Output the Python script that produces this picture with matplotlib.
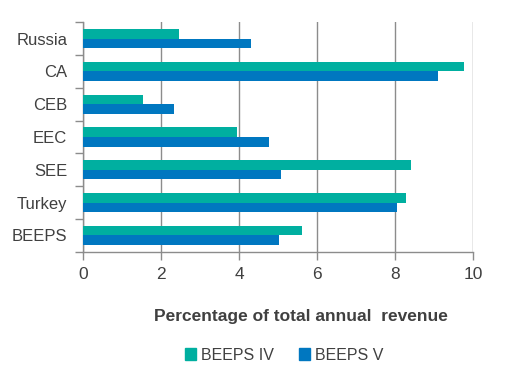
import matplotlib
matplotlib.use("Agg")
import matplotlib.pyplot as plt
import numpy as np
from matplotlib.patches import Patch

categories = ["Russia", "CA", "CEB", "EEC", "SEE", "Turkey", "BEEPS"]
beeps_iv = [2.45, 9.76, 1.53, 3.93, 8.40, 8.27, 5.61]
beeps_v = [4.29, 9.09, 2.33, 4.76, 5.07, 8.04, 5.02]
xticks = [0, 2, 4, 6, 8, 10]
series_names = ["BEEPS IV", "BEEPS V"]

teal = "#00AFA0"
blue = "#0077C0"
txt = "#404040"
grid = "#8C8C8C"

plt.rcParams['font.family'] = ['Liberation Sans', 'DejaVu Sans']

fig = plt.figure(figsize=(5.08, 3.84), dpi=100)
ax = fig.add_axes([83.3/508, 1-251.7/384, 390/508, (251.7-22.3)/384])

y = np.arange(len(categories))
h = 0.29
ax.barh(y - h/2, beeps_iv, height=h, color=teal, zorder=3)
ax.barh(y + h/2, beeps_v, height=h, color=blue, zorder=3)
ax.set_ylim(len(categories)-0.5, -0.5)
ax.set_xlim(0, 10)
ax.set_xticks(xticks)
ax.set_xticklabels([str(v) for v in xticks], fontsize=12.5, color=txt)
ax.set_yticks(np.arange(len(categories)+1)-0.5, minor=False)
ax.set_yticklabels([])
ax.set_yticks(y, minor=True)
ax.set_yticklabels(categories, minor=True, fontsize=12, color=txt)
ax.tick_params(axis='y', which='minor', length=0, pad=11.5)
ax.tick_params(axis='y', which='major', length=6, color=grid, width=1)
ax.tick_params(axis='x', length=6, color=grid, width=1, pad=5)
ax.grid(axis='x', color=grid, linewidth=1, zorder=0)
for s in ['top', 'right']:
    ax.spines[s].set_visible(False)
for s in ['left', 'bottom']:
    ax.spines[s].set_color(grid)
    ax.spines[s].set_linewidth(1)

fig.text(301/508, 1-316.7/384, "Percentage of total annual  revenue", ha='center', va='center',
         fontsize=12.5, fontweight='bold', color=txt)

handles = [Patch(color=teal), Patch(color=blue)]
fig.legend(handles, series_names, loc='center', bbox_to_anchor=(284/508, 1-355/384), ncol=2,
           frameon=False, fontsize=11.5, handlelength=0.7, handleheight=0.7, handletextpad=0.3,
           columnspacing=1.6, labelcolor=txt)

fig.savefig("out.png", dpi=100)
